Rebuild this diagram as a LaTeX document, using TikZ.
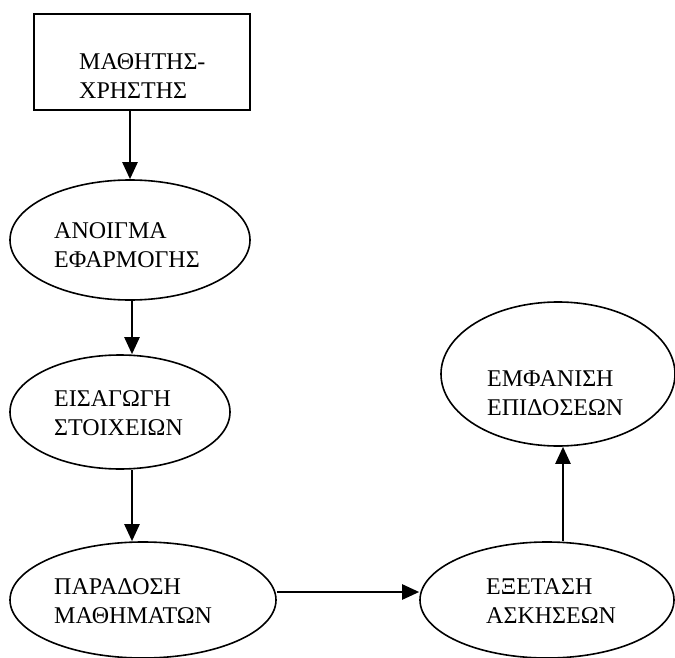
\documentclass[tikz,border=0pt]{standalone}
\usepackage{fontspec}
\setmainfont{Liberation Serif}
\usetikzlibrary{shapes.geometric,arrows.meta}
\begin{document}
\begin{tikzpicture}[x=1pt,y=-1pt,
  lbl/.style={font=\fontsize{24}{29}\selectfont, align=left, inner sep=0pt, anchor=west},
  ell/.style={draw, ellipse, line width=1.6pt, inner sep=0pt},
  boxst/.style={draw, rectangle, line width=1.6pt, inner sep=0pt},
  arr/.style={line width=2.4pt, -{Triangle[length=17pt,width=15pt]}}]
\useasboundingbox (0,0) rectangle (675,658);
\node[boxst, minimum width=216pt, minimum height=96pt] (b) at (142,62) {};
\node[ell, minimum width=240pt, minimum height=120pt] (e1) at (130,240) {};
\node[ell, minimum width=220pt, minimum height=114pt] (e2) at (120,412) {};
\node[ell, minimum width=266pt, minimum height=116pt] (e3) at (143,600) {};
\node[ell, minimum width=254pt, minimum height=116pt] (e4) at (547,600) {};
\node[ell, minimum width=234pt, minimum height=144pt] (e5) at (558,374) {};
\node[lbl] (tb) at (79,76) {ΜΑΘΗΤΗΣ-\\ΧΡΗΣΤΗΣ};
\node[lbl] (t1) at (54,245) {ΑΝΟΙΓΜΑ\\ΕΦΑΡΜΟΓΗΣ};
\node[lbl] (t2) at (54,413) {ΕΙΣΑΓΩΓΗ\\ΣΤΟΙΧΕΙΩΝ};
\node[lbl] (t3) at (54,601) {ΠΑΡΑΔΟΣΗ\\ΜΑΘΗΜΑΤΩΝ};
\node[lbl] (t4) at (486,601) {ΕΞΕΤΑΣΗ\\ΑΣΚΗΣΕΩΝ};
\node[lbl] (t5) at (487,393) {ΕΜΦΑΝΙΣΗ\\ΕΠΙΔΟΣΕΩΝ};
\draw[arr] ([xshift=-12pt]b.south) -- ([xshift=-12pt]b.south |- e1.north);
\draw[arr] ([xshift=2pt]e1.south) -- ([xshift=2pt]e1.south |- e2.north);
\draw[arr] ([xshift=12pt]e2.south) -- ([xshift=12pt]e2.south |- e3.north);
\draw[arr] ([yshift=8pt]e3.east) -- ([yshift=8pt]e4.west);
\draw[arr] ([xshift=16pt]e4.north) -- ([xshift=16pt]e4.north |- e5.south);
\end{tikzpicture}
\end{document}
